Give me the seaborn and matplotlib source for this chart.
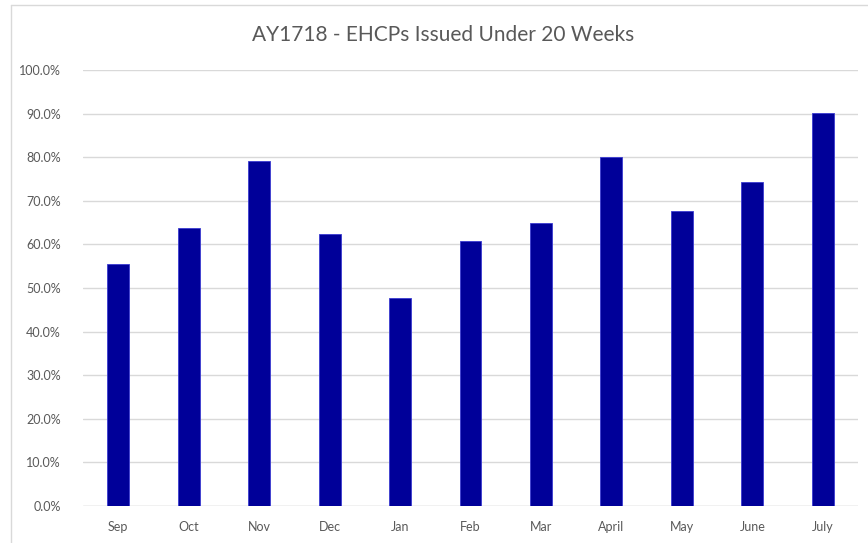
import pandas as pd
import numpy as np
import seaborn as sns
from matplotlib import pyplot as plt
from matplotlib.ticker import PercentFormatter, MultipleLocator
from matplotlib.lines import Line2D

months = ['Sep', 'Oct', 'Nov', 'Dec', 'Jan', 'Feb', 'Mar', 'April', 'May', 'June', 'July']
pct_issued = [0.556, 0.638, 0.792, 0.625, 0.477, 0.607, 0.650, 0.800, 0.677, 0.744, 0.901]

df = pd.DataFrame({'month': months, 'pct': pct_issued})

sns.set_style('white')
plt.rcParams['font.family'] = ['Lato', 'DejaVu Sans']

grey_txt = '#595959'
fig = plt.figure(figsize=(8.68, 5.43), dpi=100)
ax = fig.add_axes([83 / 868, 1 - 506 / 543, 775 / 868, 436 / 543])

sns.barplot(data=df, x='month', y='pct', color='#000099', width=0.31,
            edgecolor='#3a3ad0', linewidth=0.6, saturation=1, ax=ax, zorder=3)

ax.set_ylim(0, 1.0)
ax.yaxis.set_major_locator(MultipleLocator(0.1))
ax.yaxis.set_major_formatter(PercentFormatter(1.0, decimals=1))
ax.grid(axis='y', color='#d9d9d9', linewidth=1, zorder=0)
ax.grid(axis='x', visible=False)
for s in ax.spines.values():
    s.set_visible(False)
ax.axhline(0, color='#d9d9d9', linewidth=1, zorder=1)
ax.set_xlabel('')
ax.set_ylabel('')
ax.tick_params(axis='both', length=0, labelsize=9, labelcolor=grey_txt)
ax.tick_params(axis='x', pad=11)
ax.tick_params(axis='y', pad=16)

fig.text(443 / 868, 1 - 35 / 543, 'AY1718 - EHCPs Issued Under 20 Weeks',
         ha='center', va='center', fontsize=15, color=grey_txt)

# chart border (top and left visible in the screenshot)
fig.add_artist(Line2D([11 / 868, 11 / 868], [0, 1 - 5 / 543], color='#d9d9d9', linewidth=1))
fig.add_artist(Line2D([11 / 868, 1], [1 - 5 / 543, 1 - 5 / 543], color='#d9d9d9', linewidth=1))

fig.savefig('out.png', dpi=100)
